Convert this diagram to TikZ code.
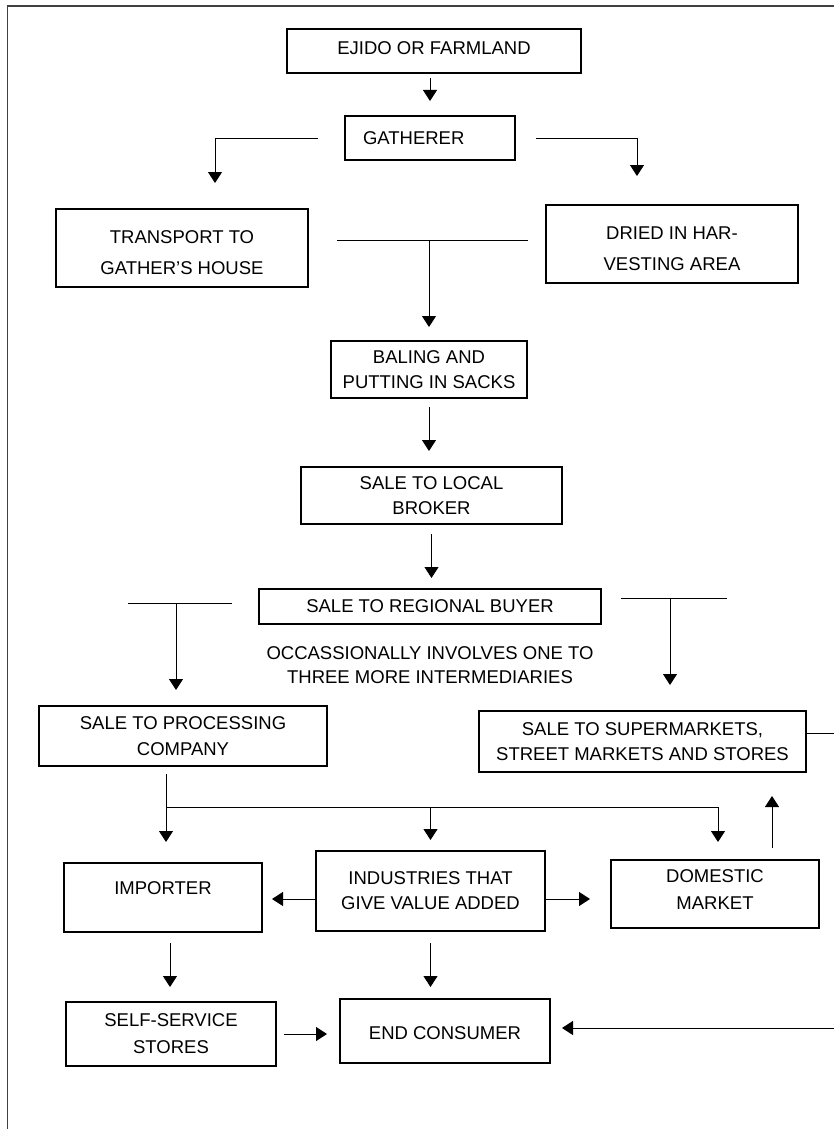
\documentclass[tikz,border=0pt]{standalone}
\usepackage{fontspec}
\setmainfont{Liberation Sans}
\usetikzlibrary{arrows.meta, positioning}

\begin{document}
\begin{tikzpicture}[x=1pt, y=-1pt, >={Triangle[length=11pt, width=14pt]}]
    \tikzstyle{stage} = [draw, line width=2pt, align=center, inner sep=0pt, font=\fontsize{18.5}{25}\selectfont]
    \tikzstyle{tall} = [font=\fontsize{18.5}{31}\selectfont]
    \tikzstyle{note} = [align=center, inner sep=0pt, font=\fontsize{18.5}{24}\selectfont]
    \tikzstyle{elbow} = [to path={-| (\tikztotarget)}]
    \tikzstyle{plain} = [-]

    \useasboundingbox (0,0) rectangle (833,1129);
    % frame, cut off on the right and at the bottom
    \draw[line width=1.2pt, black!75] (7.5,1160) -- (7.5,6) -- (860,6);

    \coordinate (merge) at (429,240);
    \coordinate (lstub) at (128,603);
    \coordinate (ltee) at (176,603);
    \coordinate (rstub) at (727,598);
    \coordinate (rtee) at (670,598);
    \coordinate (dl) at (166,807);
    \coordinate (dr) at (718,807);
    \coordinate (offr) at (840,733);
    \coordinate (offr2) at (840,1028);

    \path[->, line width=1pt]
        node[stage, minimum width=294, minimum height=44] (farm) at (434,51) {EJIDO OR FARMLAND\rule[-5pt]{0pt}{5pt}}
        node[stage, minimum width=170, minimum height=44, text width=134, align=left] (gath) at (430,138) {GATHERER}
        node[stage, tall, minimum width=252, minimum height=78] (trans) at (182,248) {\rule{0pt}{23pt}TRANSPORT TO\\GATHER’S HOUSE}
        node[stage, tall, minimum width=252, minimum height=78] (dried) at (672,244) {\rule{0pt}{23pt}DRIED IN HAR-\\VESTING AREA}
        node[stage, minimum width=196, minimum height=57] (bale) at (429,369.5) {BALING AND\\PUTTING IN SACKS}
        node[stage, minimum width=261, minimum height=57] (local) at (431.5,495.5) {SALE TO LOCAL\\BROKER}
        node[stage, minimum width=342, minimum height=35] (regional) at (430,606.5) {SALE TO REGIONAL BUYER}
        node[note, below=21pt of regional] (extra) {OCCASSIONALLY INVOLVES ONE TO\\THREE MORE INTERMEDIARIES}
        node[stage, minimum width=288, minimum height=60] (proc) at (183,736) {SALE TO PROCESSING\\[1pt]COMPANY}
        node[stage, minimum width=327, minimum height=61] (super) at (642.5,741.5) {SALE TO SUPERMARKETS,\\STREET MARKETS AND STORES}
        node[stage, minimum width=198, minimum height=69, text height=14pt, text depth=21pt] (imp) at (163,897.5) {IMPORTER}
        node[stage, minimum width=229, minimum height=80] (ind) at (430.5,891) {INDUSTRIES THAT\\GIVE VALUE ADDED}
        node[stage, minimum width=208, minimum height=68] (dom) at (715,894) {DOMESTIC\\[2pt]MARKET\rule[-8pt]{0pt}{8pt}}
        node[stage, minimum width=210, minimum height=64] (self) at (171,1034) {SELF-SERVICE\\[2pt]STORES}
        node[stage, minimum width=210, minimum height=64] (endc) at (445,1031) {\rule{0pt}{17pt}END CONSUMER}

        (farm.south -| gath.north) edge[shorten <=4pt, shorten >=14pt] (gath.north)
        (gath.west) edge[elbow, shorten <=26pt, shorten >=25pt] ([xshift=33pt]trans.north)
        (gath.east) edge[elbow, shorten <=20pt, shorten >=28pt] ([xshift=-35pt]dried.north)

        ([yshift=8pt]trans.east) edge[plain, shorten <=28pt, shorten >=17pt] ([yshift=4pt]dried.west)
        (merge) edge[shorten >=13pt] (merge |- bale.north)

        (bale.south) edge[shorten <=8pt, shorten >=15pt] (bale.south |- local.north)
        (local.south) edge[shorten <=9pt, shorten >=10pt] (local.south |- regional.north)

        ([xshift=-26pt, yshift=3.5pt]regional.west) edge[plain] (lstub)
        (ltee) edge[shorten >=15pt] (ltee |- proc.north)
        ([xshift=19pt, yshift=8.5pt]regional.east) edge[plain] (rstub)
        (rtee) edge[shorten >=25pt] (rtee |- super.north)

        (proc.south -| dl) edge[shorten <=7pt, shorten >=20pt] (dl |- imp.north)
        (dl) edge[plain] (dr)
        (dl -| ind.north) edge[shorten >=10pt] (ind.north)
        (dr) edge[shorten >=17pt] (dr |- dom.north)

        ([xshift=57pt]dom.north) edge[shorten <=11pt, shorten >=23pt] ([xshift=57pt]dom.north |- super.south)
        ([yshift=8.5pt]super.east) edge[plain] (offr)

        ([yshift=-8pt]ind.west) edge[shorten >=9pt] ([yshift=-8pt]ind.west -| imp.east)
        ([yshift=-8pt]ind.east) edge[shorten >=20pt] ([yshift=-8pt]ind.east -| dom.west)

        ([xshift=7pt]imp.south) edge[shorten <=10pt, shorten >=14pt] ([xshift=7pt]imp.south |- self.north)
        (ind.south) edge[shorten <=11pt, shorten >=11pt] (ind.south |- endc.north)
        (self.east) edge[shorten <=7pt, shorten >=12pt] (self.east -| endc.west)
        (offr2) edge[shorten >=11pt] (offr2 -| endc.east)
    ;
\end{tikzpicture}
\end{document}
